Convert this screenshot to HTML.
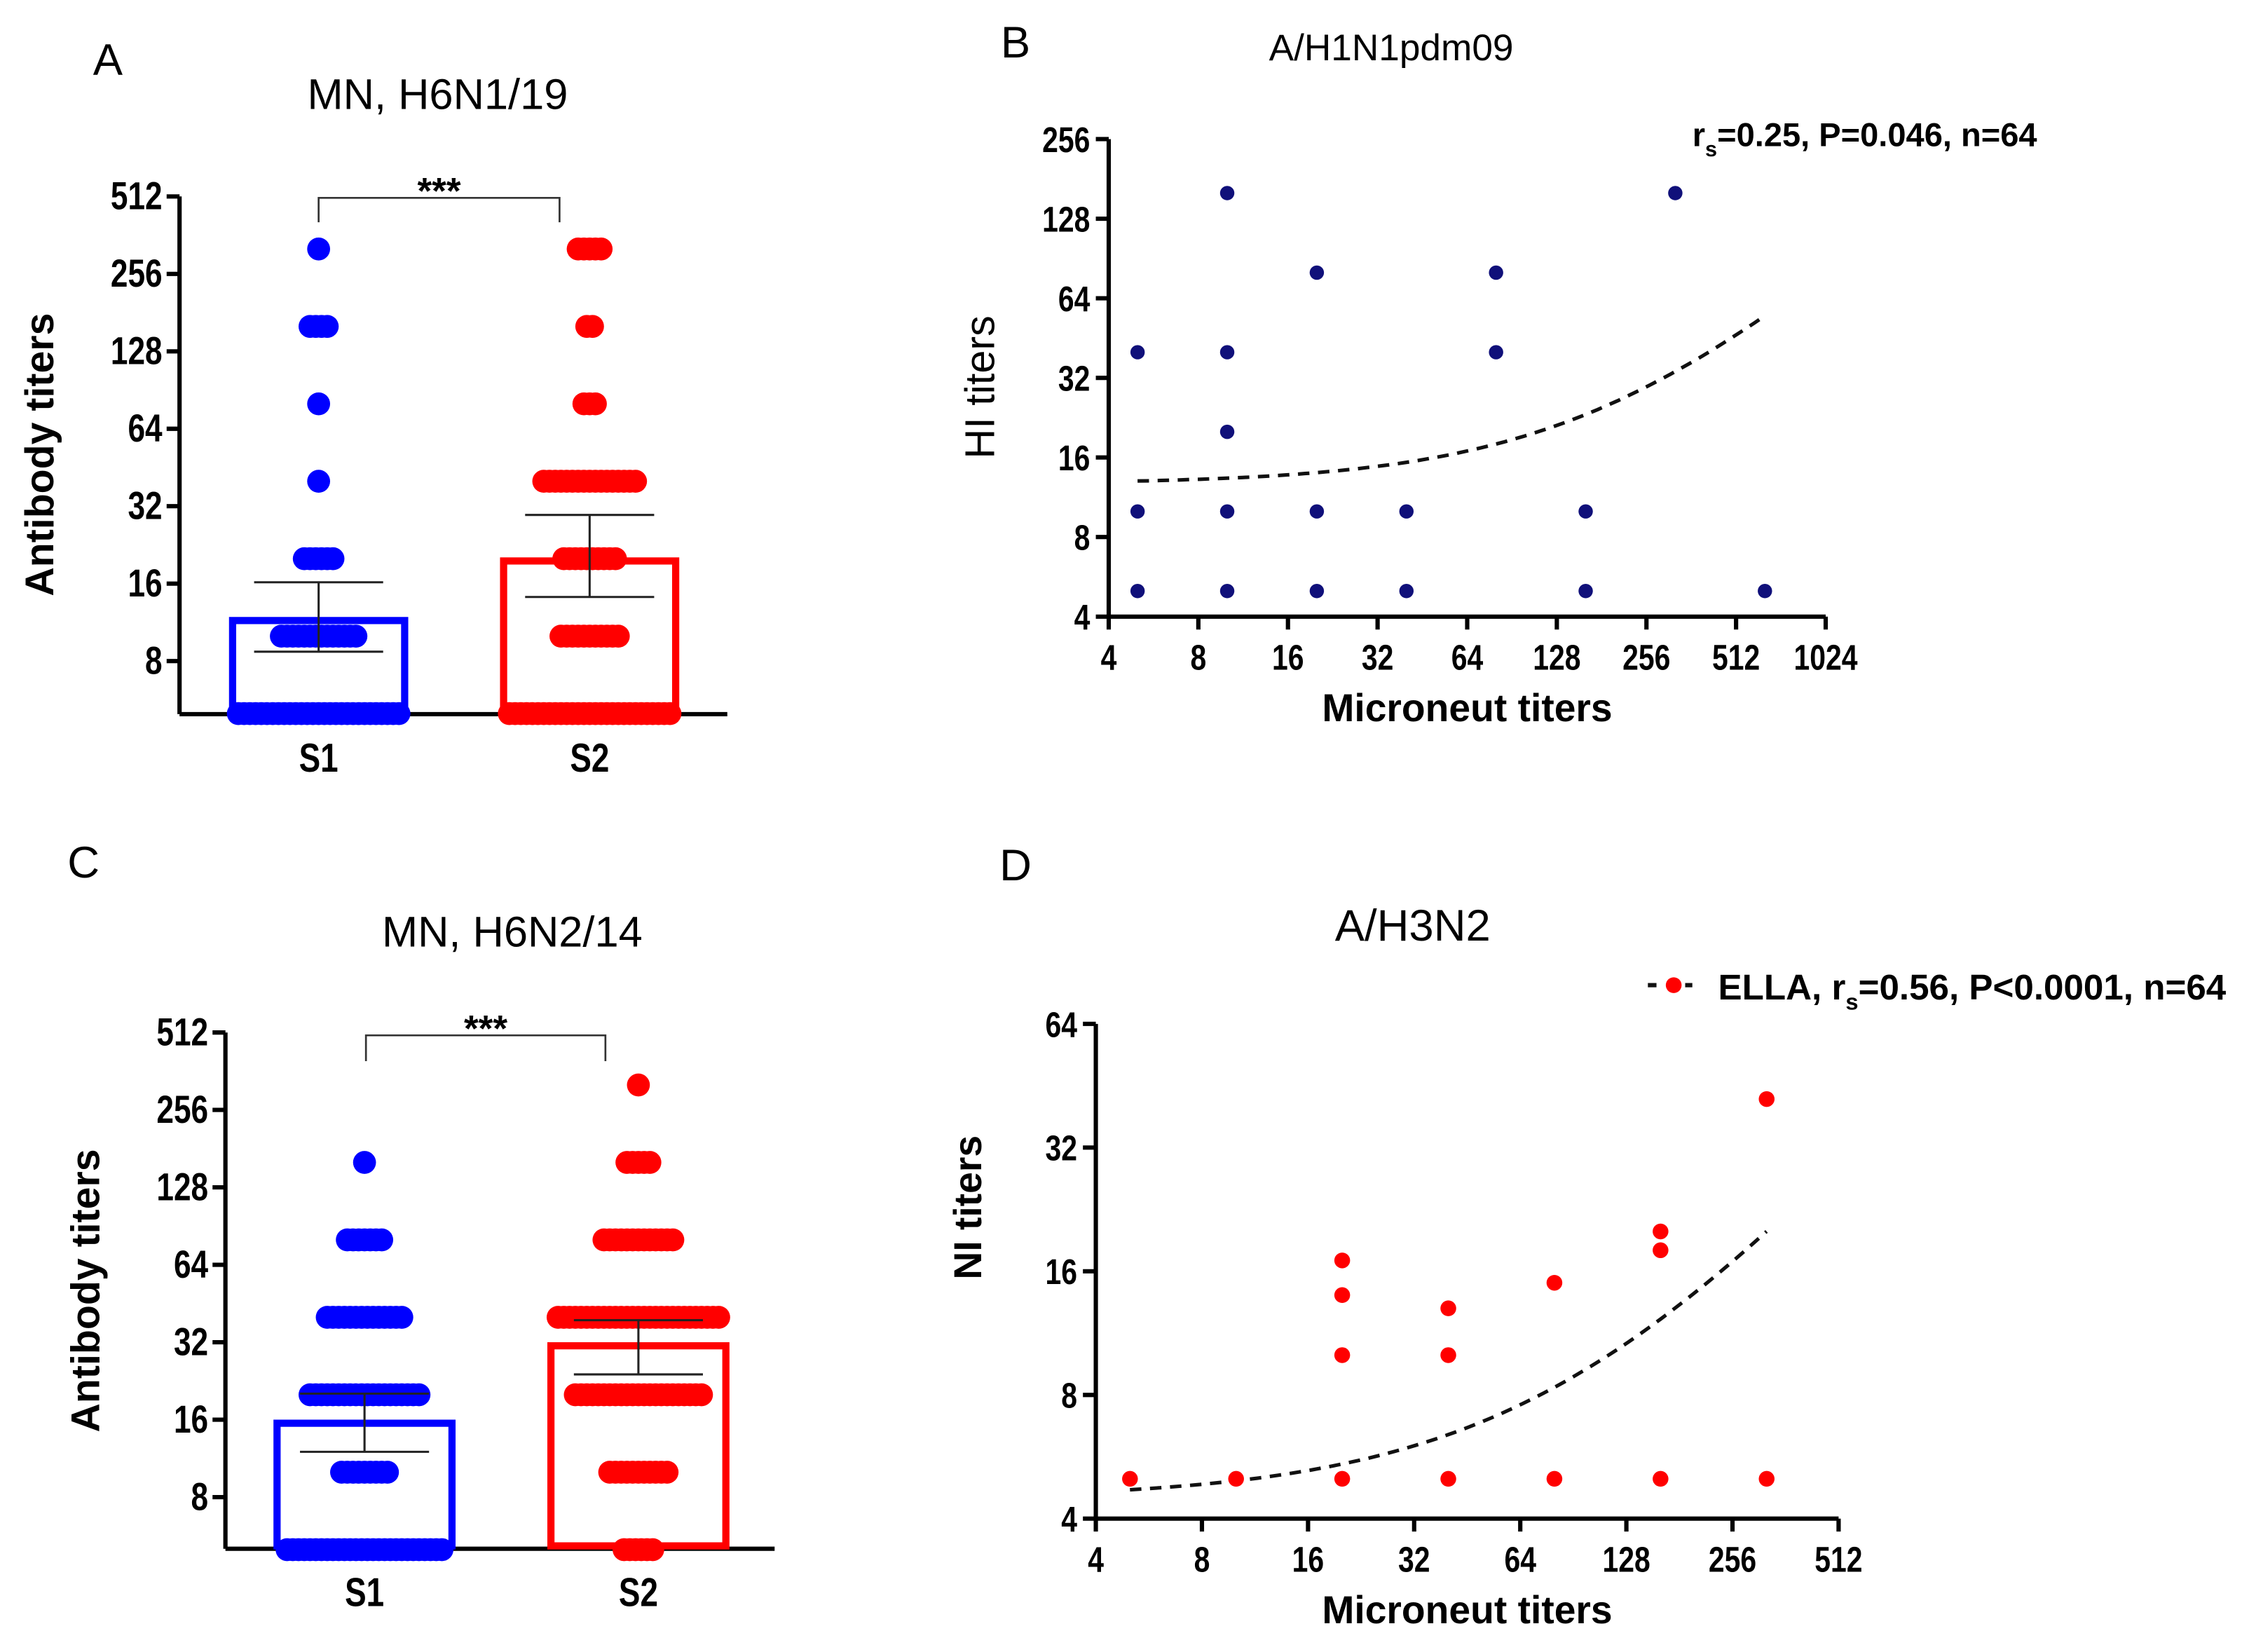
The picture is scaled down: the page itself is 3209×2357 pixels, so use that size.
<!DOCTYPE html>
<html><head><meta charset="utf-8">
<style>
html,body{margin:0;padding:0;background:#fff;}
svg{display:block;}
text{font-family:"Liberation Sans",Arial,sans-serif;}
.tk{font-family:"Liberation Sans",sans-serif;font-weight:bold;font-size:26px;}
.ttl{font-size:30px;}
.lt{font-size:31px;}
.ax{font-weight:bold;font-size:27px;}
</style></head>
<body>
<svg id="fig" width="3209" height="2357" viewBox="0 0 1568 1152" xmlns="http://www.w3.org/2000/svg">
<g id="root"></g>
</svg>
<script>
// ---------- Data ----------
const groupLabels = ["S1","S2"];
const dotLevels = [5,10,20,40,80,160,320];
// counts of dots per level (A: H6N1/19)
const aS1Counts = [29,14,6,1,1,4,1];
const aS2Counts = [29,11,10,17,3,2,5];
const aBarMeans = [11.5,19.6];
const aErrLow = [8.7,14.2];
const aErrHigh = [16.2,29.6];
// C: H6N2/14
const cS1Counts = [28,9,20,14,7,1,0];
const cS2Counts = [6,11,23,29,13,5,1];
const cBarMeans = [15.5,31];
const cErrLow = [12,24];
const cErrHigh = [20.2,39];
const barTicks = [8,16,32,64,128,256,512];
// B: A/H1N1pdm09
const bX = [5,5,5,10,10,10,10,10,20,20,20,40,40,80,80,160,160,320,640];
const bY = [40,10,5,160,40,20,10,5,80,10,5,10,5,80,40,10,5,160,5];
const bFitIntercept = 12.7, bFitSlope = 0.066, bFitRange = [5,640];
const bXTicks = [4,8,16,32,64,128,256,512,1024];
const bYTicks = [4,8,16,32,64,128,256];
// D: A/H3N2
const dX = [5,10,20,20,20,20,40,40,40,80,80,160,160,160,320,320];
const dY = [5,5,5,10,14,17,5,10,13,5,15,5,18,20,5,42];
const dFitIntercept = 4.46, dFitSlope = 0.0486, dFitRange = [5,320];
const dXTicks = [4,8,16,32,64,128,256,512];
const dYTicks = [4,8,16,32,64];

const NS="http://www.w3.org/2000/svg";
const root=document.getElementById('root');
function el(tag,attrs,parent,txt){const e=document.createElementNS(NS,tag);for(const k in attrs)e.setAttribute(k,attrs[k]);if(txt!==undefined)e.textContent=txt;(parent||root).appendChild(e);return e;}
function logScale(v0,p0,v1,p1){return v=>p0+(Math.log2(v)-Math.log2(v0))/(Math.log2(v1)-Math.log2(v0))*(p1-p0);}
function narrow(x,y,anchor,txt,parent,size){
  return el('text',{transform:`translate(${x},${y}) scale(0.8,1)`,'text-anchor':anchor,class:'tk',style:size?('font-size:'+size+'px'):''},parent,txt);
}

// ---------- Bar/dot panels ----------
function barPanel(cfg){
  const g=el('g',{});
  
  
  const y=logScale(8,cfg.y8,512,cfg.y512);
  const t1=el('text',{x:cfg.letter[0],y:cfg.letter[1],'text-anchor':'middle',class:'lt'},g,cfg.letterText);
  
  const t2=el('text',{x:cfg.title[0],y:cfg.title[1],'text-anchor':'middle',class:'ttl'},g,cfg.titleText);
  
  const yl=el('text',{transform:`translate(${cfg.ylab[0]},${cfg.ylab[1]}) rotate(-90)`,'text-anchor':'middle',class:'ax',style:'font-size:28px'},g,'Antibody titers');
  
  const ya=el('line',{x1:cfg.ax,y1:y(512),x2:cfg.ax,y2:cfg.base,stroke:'#000','stroke-width':3},g);
  
  barTicks.forEach(t=>{
    el('line',{x1:cfg.ax-9,y1:y(t),x2:cfg.ax,y2:y(t),stroke:'#000','stroke-width':3},g);
    const tl=narrow(cfg.ax-12,y(t)+9,'end',String(t),g,27);
    
  });
  const xa=el('line',{x1:cfg.ax,y1:cfg.base,x2:cfg.xEnd,y2:cfg.base,stroke:'#000','stroke-width':3},g);
  
  const colors=['#0000ff','#ff0000'];
  const counts=[cfg.s1,cfg.s2];
  cfg.centers.forEach((cx,i)=>{
    el('line',{x1:cx,y1:cfg.base,x2:cx,y2:cfg.base+7,stroke:'#000','stroke-width':3},g);
    const xl=narrow(cx,cfg.base+40,'middle',groupLabels[i],g,28);
    
    const top=y(cfg.means[i]);
    const b=el('rect',{x:cx-cfg.bw/2+2.5,y:top,width:cfg.bw-5,height:cfg.base-top-2,fill:'none',stroke:colors[i],'stroke-width':5},g);
    
    dotLevels.forEach((lv,j)=>{
      const n=counts[i][j];
      for(let k=0;k<n;k++){
        const d=el('circle',{cx:cx+(k-(n-1)/2)*4,cy:y(lv),r:8,fill:colors[i]},g);
        
      }
    });
    const lo=y(cfg.lo[i]),hi=y(cfg.hi[i]);
    const eb=el('path',{d:`M${cx},${lo}V${hi}M${cx-45},${hi}H${cx+45}M${cx-45},${lo}H${cx+45}`,stroke:'#222','stroke-width':1.5,fill:'none'},g);
    
  });
  const br=el('path',{d:`M${cfg.brk[0]},${cfg.brk[3]}V${cfg.brk[2]}H${cfg.brk[1]}V${cfg.brk[3]}`,stroke:'#333','stroke-width':1.3,fill:'none'},g);
  
  const st=el('text',{x:(cfg.brk[0]+cfg.brk[1])/2,y:cfg.brk[2]+4,'text-anchor':'middle',style:'font-size:26px;font-weight:bold'},g,'***');
  
}
barPanel({name:'panel-a',letterText:'A',letter:[75,52],titleText:'MN, H6N1/19',title:[305,76],ylab:[37,317],
  ax:125,y8:461,y512:137,base:498,xEnd:507,centers:[222,411],bw:125,means:aBarMeans,lo:aErrLow,hi:aErrHigh,
  s1:aS1Counts,s2:aS2Counts,brk:[222,390,138,155]});
barPanel({name:'panel-c',letterText:'C',letter:[58,612],titleText:'MN, H6N2/14',title:[357,660],ylab:[69,900],
  ax:157,y8:1044,y512:720,base:1080,xEnd:540,centers:[254,445],bw:127,means:cBarMeans,lo:cErrLow,hi:cErrHigh,
  s1:cS1Counts,s2:cS2Counts,brk:[255,422,722,740]});

// ---------- Scatter panels ----------
function scatter(cfg){
  const g=el('g',{});
  
  
  const x=logScale(cfg.xt[0],cfg.x0,cfg.xt[cfg.xt.length-1],cfg.x1);
  const y=logScale(cfg.yt[0],cfg.y0,cfg.yt[cfg.yt.length-1],cfg.y1);
  const t1=el('text',{x:cfg.letter[0],y:cfg.letter[1],'text-anchor':'middle',class:'lt'},g,cfg.letterText);
  
  const t2=el('text',{x:cfg.title[0],y:cfg.title[1],'text-anchor':'middle',class:'ttl',style:'font-size:'+cfg.tsize+'px'},g,cfg.titleText);
  
  const yl=el('text',{transform:`translate(${cfg.ylab[0]},${cfg.ylab[1]}) rotate(-90)`,'text-anchor':'middle',class:cfg.ylBold?'ax':'',style:cfg.ylBold?'':'font-size:29px'},g,cfg.ylabText);
  
  const xl=el('text',{x:(cfg.x0+cfg.x1)/2,y:cfg.y0+73,'text-anchor':'middle',class:'ax'},g,'Microneut titers');
  
  const ya=el('line',{x1:cfg.x0,y1:cfg.y1,x2:cfg.x0,y2:cfg.y0,stroke:'#000','stroke-width':3},g);
  
  const xa=el('line',{x1:cfg.x0,y1:cfg.y0,x2:cfg.x1,y2:cfg.y0,stroke:'#000','stroke-width':3},g);
  
  cfg.yt.forEach(t=>{
    el('line',{x1:cfg.x0-9,y1:y(t),x2:cfg.x0,y2:y(t),stroke:'#000','stroke-width':3},g);
    const tl=narrow(cfg.x0-13,y(t)+9,'end',String(t),g,25);
    
  });
  cfg.xt.forEach(t=>{
    el('line',{x1:x(t),y1:cfg.y0,x2:x(t),y2:cfg.y0+9,stroke:'#000','stroke-width':3},g);
    const tl=narrow(x(t),cfg.y0+37,'middle',String(t),g,25);
    
  });
  let d='';
  for(let i=0;i<=60;i++){
    const lx=Math.log2(cfg.fr[0])+i/60*(Math.log2(cfg.fr[1])-Math.log2(cfg.fr[0]));
    const xv=Math.pow(2,lx);const yv=cfg.a+cfg.b*xv;
    d+=(i?'L':'M')+x(xv).toFixed(1)+','+y(yv).toFixed(1);
  }
  const fl=el('path',{d:d,fill:'none',stroke:'#111','stroke-width':2.5,'stroke-dasharray':'8,6'},g);
  
  cfg.xs.forEach((xv,i)=>{
    const p=el('circle',{cx:x(xv),cy:y(cfg.ys[i]),r:cfg.r,fill:cfg.color},g);
    
  });
  return g;
}
scatter({name:'panel-b',letterText:'B',letter:[708,40],titleText:'A/H1N1pdm09',title:[970,42],tsize:26,
  ylabText:'HI titers',ylab:[693,270],ylBold:false,x0:773,x1:1273,y0:430,y1:97,xt:bXTicks,yt:bYTicks,
  xs:bX,ys:bY,a:bFitIntercept,b:bFitSlope,fr:bFitRange,color:'#10107a',r:5});
scatter({name:'panel-d',letterText:'D',letter:[708,614],titleText:'A/H3N2',title:[985,656],tsize:31,
  ylabText:'NI titers',ylab:[684,842],ylBold:true,x0:764,x1:1282,y0:1059,y1:714,xt:dXTicks,yt:dYTicks,
  xs:dX,ys:dY,a:dFitIntercept,b:dFitSlope,fr:dFitRange,color:'#ff0000',r:5.5});

// annotations
const ab=el('text',{x:1180,y:102,style:'font-size:23px;font-weight:bold'},root);

ab.innerHTML='r<tspan dy="7" style="font-size:15px">s</tspan><tspan dy="-7">=0.25, P=0.046, n=64</tspan>';
const lg=el('g',{},root);

el('path',{d:'M1149,687H1155M1175,687H1180',stroke:'#111','stroke-width':3},lg);
el('circle',{cx:1167,cy:687,r:5.5,fill:'#ff0000'},lg);
const lt=el('text',{x:1198,y:697,style:'font-size:25px;font-weight:bold'},lg);
lt.innerHTML='ELLA, r<tspan dy="7" style="font-size:16px">s</tspan><tspan dy="-7">=0.56, P&lt;0.0001, n=64</tspan>';
</script>
</body></html>
